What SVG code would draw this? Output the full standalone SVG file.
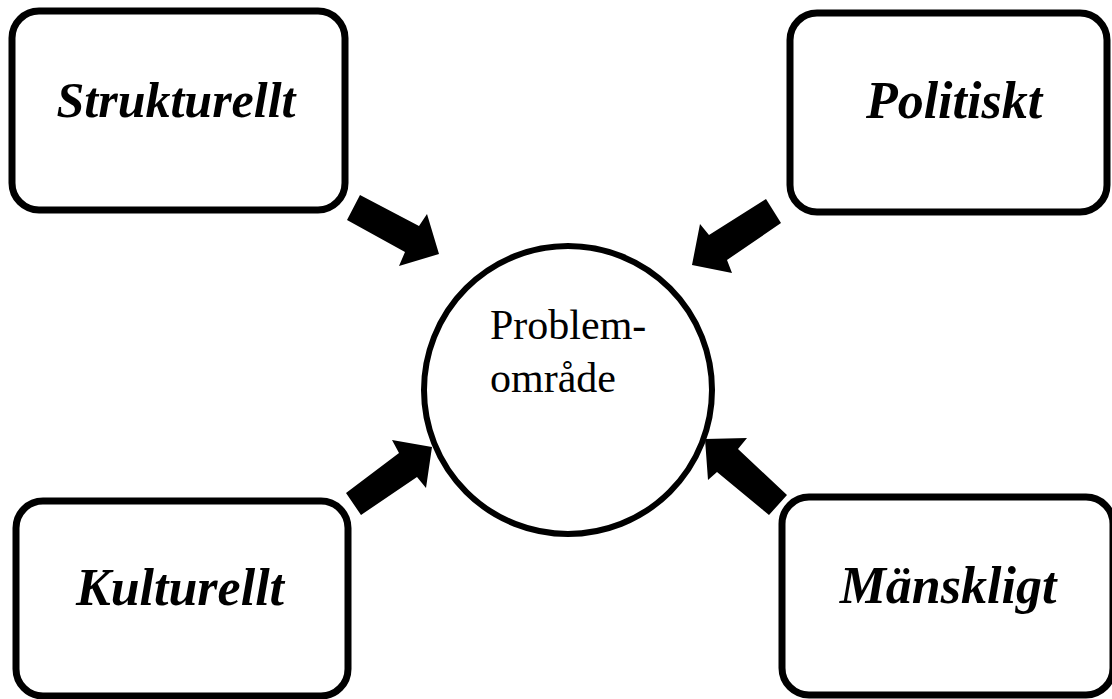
<svg xmlns="http://www.w3.org/2000/svg" width="1112" height="699" viewBox="0 0 1112 699">
<style>
.box{fill:#fff;stroke:#000;stroke-width:7}
.lbl{font-family:"Liberation Serif","Times New Roman",serif;font-style:italic;font-weight:bold;font-size:52px;fill:#000;text-anchor:middle}
.ctr{font-family:"Liberation Serif","Times New Roman",serif;font-size:42px;fill:#000}
.arr{fill:#000;stroke:none}
</style>
<rect width="1112" height="699" fill="#fff"/>
<g id="strukturellt">
<rect class="box" x="12" y="11" width="333" height="199" rx="27"/>
<text class="lbl" x="176" y="117" style="font-size:50px">Strukturellt</text>
</g>
<g id="politiskt">
<rect class="box" x="790" y="13" width="317" height="199" rx="27"/>
<text class="lbl" x="954" y="118">Politiskt</text>
</g>
<g id="kulturellt">
<rect class="box" x="16" y="501" width="332" height="195" rx="27"/>
<text class="lbl" x="180" y="605">Kulturellt</text>
</g>
<g id="manskligt">
<rect class="box" x="782" y="497" width="331" height="198" rx="27"/>
<text class="lbl" x="948" y="603">Mänskligt</text>
</g>
<g id="problemomrade">
<circle cx="568" cy="390" r="144" fill="#fff" stroke="#000" stroke-width="6"/>
<text class="ctr" x="490" y="339">Problem-</text>
<text class="ctr" x="490" y="392">område</text>
</g>
<g id="connectors">
<polygon class="arr" points="360,195 419,226 427,214 439,254 399,266 405,252 347,220"/>
<polygon class="arr" points="766,199 781,223 727,260 732,273 692,265 700,224 709,235"/>
<polygon class="arr" points="346,493 399,453 392,440 432,447 426,488 417,477 361,515"/>
<polygon class="arr" points="787,495 738,449 747,438 705,439 708,480 717,472 769,515"/>
</g>
</svg>
